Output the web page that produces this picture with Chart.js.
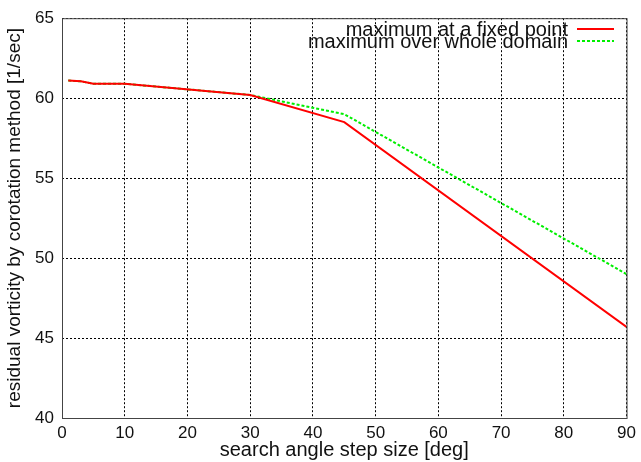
<!DOCTYPE html>
<html>
<head>
<meta charset="utf-8">
<script src="https://cdn.jsdelivr.net/npm/chart.js@4"></script>
<style>
  html, body { margin: 0; padding: 0; background: #fff; }
  #wrap { width: 641px; height: 462px; }
</style>
</head>
<body>
<div id="wrap"><canvas id="myChart" width="641" height="462"></canvas></div>
<script>
// step sizes and results
const stepSize = [1, 3, 5, 10, 30, 45, 90];
const fixedPoint = [61.1, 61.05, 60.9, 60.9, 60.2, 58.5, 45.7];
const wholeDomain = [61.1, 61.05, 60.9, 60.9, 60.2, 59.0, 49.0];
const xTicks = [0, 10, 20, 30, 40, 50, 60, 70, 80, 90];
const yTicks = [40, 45, 50, 55, 60, 65];
const seriesNames = ['maximum at a fixed point', 'maximum over whole domain'];

const FONT = 'Liberation Sans, Arial, sans-serif';

function pts(ys) {
    return stepSize.map((x, i) => ({ x: x, y: ys[i] }));
}

// gnuplot-like frame and key in the top right corner
const frameAndKey = {
    id: 'frameAndKey',
    afterDraw(chart) {
        const c = chart.ctx, a = chart.chartArea;
        c.save();
        c.strokeStyle = '#444';
        c.lineWidth = 1;
        c.strokeRect(a.left + 0.5, a.top + 0.5, a.right - a.left, a.bottom - a.top);
        c.font = '20px ' + FONT;
        c.fillStyle = '#111';
        c.textAlign = 'right';
        c.textBaseline = 'middle';
        const rows = [
            { y: 30, color: '#ff0000', dash: [] },
            { y: 42, color: '#00ee00', dash: [3, 2] }
        ];
        rows.forEach((r, i) => {
            c.fillText(seriesNames[i], 568, r.y);
            c.beginPath();
            c.setLineDash(r.dash);
            c.strokeStyle = r.color;
            c.lineWidth = 2;
            c.moveTo(577, r.y - 1);
            c.lineTo(614, r.y - 1);
            c.stroke();
        });
        c.restore();
    }
};

const ctx = document.getElementById('myChart').getContext('2d');
const chart = new Chart(ctx, {
    type: 'scatter',
    data: {
        datasets: [
            {
                label: seriesNames[0],
                data: pts(fixedPoint),
                showLine: true,
                borderColor: '#ff0000',
                borderWidth: 2,
                pointRadius: 0,
                tension: 0
            },
            {
                label: seriesNames[1],
                data: pts(wholeDomain),
                showLine: true,
                borderColor: '#00ee00',
                borderWidth: 2,
                borderDash: [3, 2],
                pointRadius: 0,
                tension: 0
            }
        ]
    },
    options: {
        responsive: false,
        animation: false,
        layout: { padding: { top: 16, right: 13, left: 0, bottom: 0 } },
        plugins: {
            legend: { display: false },
            tooltip: { enabled: false }
        },
        scales: {
            x: {
                type: 'linear',
                min: 0,
                max: 90,
                afterBuildTicks: (s) => { s.ticks = xTicks.map(v => ({ value: v })); },
                afterFit: (s) => { s.height = 44; },
                ticks: { color: '#111', font: { family: FONT, size: 17 }, padding: 5, maxRotation: 0 },
                grid: { color: '#000', lineWidth: 1, tickLength: 0, drawTicks: false },
                border: { display: false, dash: [2, 2] },
                title: {
                    display: true,
                    text: 'search angle step size [deg]',
                    color: '#111',
                    font: { family: FONT, size: 20 },
                    padding: { top: 0, bottom: 0 }
                }
            },
            y: {
                type: 'linear',
                min: 40,
                max: 65,
                afterBuildTicks: (s) => { s.ticks = yTicks.map(v => ({ value: v })); },
                afterFit: (s) => { s.width = 62; },
                ticks: { color: '#111', font: { family: FONT, size: 17 }, padding: 8 },
                grid: { color: '#000', lineWidth: 1, drawTicks: false },
                border: { display: false, dash: [2, 2] },
                title: {
                    display: true,
                    text: 'residual vorticity by corotation method [1/sec]',
                    color: '#111',
                    font: { family: FONT, size: 19 },
                    padding: { top: 3, bottom: 0 }
                }
            }
        }
    },
    plugins: [frameAndKey]
});
</script>
</body>
</html>
